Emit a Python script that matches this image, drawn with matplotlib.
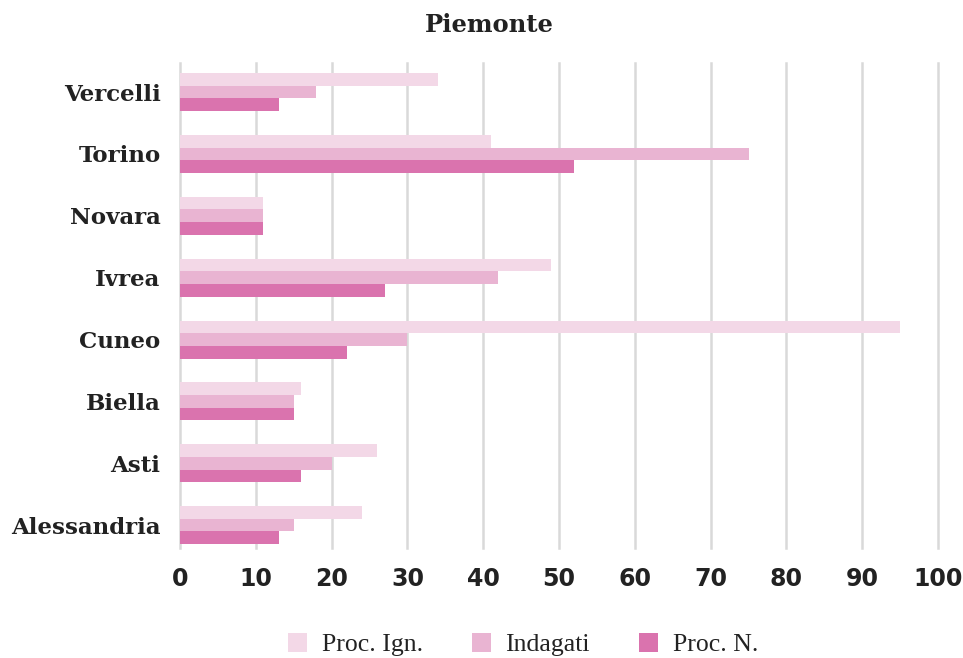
import numpy as np
import matplotlib
matplotlib.use("Agg")
import matplotlib.pyplot as plt

# Piemonte offices, listed bottom to top
offices = ["Alessandria", "Asti", "Biella", "Cuneo", "Ivrea", "Novara", "Torino", "Vercelli"]
proc_ign = [24, 26, 16, 95, 49, 11, 41, 34]
indagati = [15, 20, 15, 30, 42, 11, 75, 18]
proc_n = [13, 16, 15, 22, 27, 11, 52, 13]

series = ["Proc. Ign.", "Indagati", "Proc. N."]
colors = ["#f3d8e7", "#e9b4d2", "#da73ae"]
x_ticks = [0, 10, 20, 30, 40, 50, 60, 70, 80, 90, 100]

plt.rcParams["font.family"] = ["DejaVu Serif"]

fig = plt.figure(figsize=(9.63, 6.58), dpi=100)
ax = fig.add_axes([180 / 963, 1 - 548 / 658, (938 - 180) / 963, (548 - 63) / 658])

y = np.arange(len(offices))
h = 0.205
for i, (vals, col, name) in enumerate(zip([proc_ign, indagati, proc_n], colors, series)):
    ax.barh(y + (1 - i) * h, vals, height=h, color=col, label=name, zorder=2)

ax.set_xlim(0, 100)
ax.set_ylim(-0.37, len(offices) - 1 + 0.47)
ax.set_xticks(x_ticks)
ax.set_xticklabels([str(t) for t in x_ticks], fontfamily="DejaVu Sans",
                   fontweight="bold", fontsize=17, color="#222222")
ax.set_yticks(y)
ax.set_yticklabels(offices, fontsize=16.5, fontweight="bold", color="#222222")
ax.tick_params(axis="x", length=0, pad=14)
ax.tick_params(axis="y", length=0, pad=14)

ax.grid(axis="x", color="#d9d9d9", linewidth=1.8, zorder=0)
ax.grid(axis="y", visible=False)
for gl in ax.get_xgridlines():
    gl.set_clip_on(False)
for s in ax.spines.values():
    s.set_visible(False)

fig.text(0.508, 1 - 25 / 658, "Piemonte", ha="center", va="center",
         fontsize=17.5, fontweight="bold", color="#222222")

fig.legend(loc="center", bbox_to_anchor=(0.543, 0.02), ncol=3, frameon=False,
           prop={"family": "Liberation Serif", "size": 18.5},
           handlelength=0.74, handleheight=0.74, columnspacing=1.9,
           handletextpad=0.58, labelcolor="#222222")

fig.savefig("out.png", dpi=100, facecolor="white")
